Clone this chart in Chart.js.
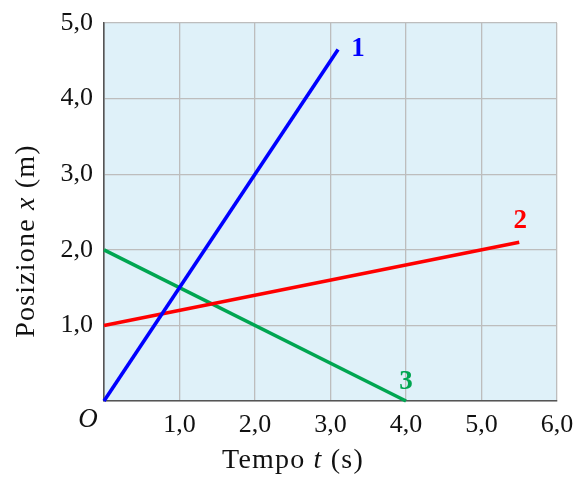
<!DOCTYPE html>
<html>
<head>
<meta charset="utf-8">
<script src="https://cdn.jsdelivr.net/npm/chart.js@4"></script>
<style>
  html, body { margin: 0; padding: 0; background: #fff; }
  #wrap { width: 576px; height: 477px; }
</style>
</head>
<body>
<div id="wrap"><canvas id="motionChart" width="576" height="477"></canvas></div>
<script>
// line 1, 2, 3: time (s) and position (m) at start and end
const time1 = [0, 3.1];
const pos1 = [0, 4.65];
const time2 = [0, 5.5];
const pos2 = [1, 2.1];
const time3 = [0, 4];
const pos3 = [2, 0];
const lineNames = ['1', '2', '3'];
const lineColors = ['#0000ff', '#ff0000', '#00a651'];
const xTickValues = [1, 2, 3, 4, 5, 6];
const yTickValues = [1, 2, 3, 4, 5];

const serif = '"Liberation Serif", "DejaVu Serif", serif';

function toPoints(xs, ys) {
  return xs.map((x, i) => ({ x: x, y: ys[i] }));
}

function commaLabel(v) {
  return v.toFixed(1).replace('.', ',');
}

const lineData = {
  datasets: [
    { label: lineNames[0], data: toPoints(time1, pos1), borderColor: lineColors[0] },
    { label: lineNames[1], data: toPoints(time2, pos2), borderColor: lineColors[1] },
    { label: lineNames[2], data: toPoints(time3, pos3), borderColor: lineColors[2] }
  ].map(d => Object.assign(d, {
    showLine: true, borderWidth: 3.6, pointRadius: 0, fill: false, clip: false
  }))
};

// label offsets from the end of each line (px)
const nameOffsets = [[20, 0], [1, -21], [0, -19]];

const decorations = {
  id: 'decorations',
  beforeDraw(chart) {
    const { ctx, chartArea: a } = chart;
    ctx.save();
    ctx.fillStyle = '#dff1f9';
    ctx.fillRect(a.left, a.top, a.right - a.left, a.bottom - a.top);
    ctx.restore();
  },
  afterDraw(chart) {
    const { ctx, scales } = chart;
    ctx.save();
    // line names
    ctx.textAlign = 'center';
    ctx.textBaseline = 'middle';
    ctx.font = 'bold 27px ' + serif;
    chart.data.datasets.forEach((ds, i) => {
      const end = ds.data[ds.data.length - 1];
      ctx.fillStyle = lineColors[i];
      ctx.fillText(lineNames[i],
        scales.x.getPixelForValue(end.x) + nameOffsets[i][0],
        scales.y.getPixelForValue(end.y) + nameOffsets[i][1]);
    });
    // origin
    ctx.fillStyle = '#111';
    ctx.font = 'italic 27px ' + serif;
    ctx.fillText('O', scales.x.getPixelForValue(0) - 16, scales.y.getPixelForValue(0) + 19);
    // axis titles with italic variable
    drawMixed(ctx, [['Tempo ', ''], ['t', 'italic '], [' (s)', '']], 293, 461, 0);
    drawMixed(ctx, [['Posizione ', ''], ['x', 'italic '], [' (m)', '']], 27, 241, -Math.PI / 2);
    ctx.restore();
  }
};

function drawMixed(ctx, parts, cx, cy, rot) {
  ctx.save();
  ctx.translate(cx, cy);
  ctx.rotate(rot);
  ctx.textAlign = 'left';
  ctx.textBaseline = 'middle';
  ctx.fillStyle = '#111';
  ctx.letterSpacing = '1.2px';
  let total = 0;
  parts.forEach(p => { ctx.font = p[1] + '28px ' + serif; total += ctx.measureText(p[0]).width; });
  let x = -total / 2;
  parts.forEach(p => {
    ctx.font = p[1] + '28px ' + serif;
    ctx.fillText(p[0], x, 0);
    x += ctx.measureText(p[0]).width;
  });
  ctx.restore();
}

const config = {
  type: 'scatter',
  data: lineData,
  options: {
    responsive: false,
    animation: false,
    layout: { padding: { top: 23, right: 19, left: 0, bottom: 0 } },
    plugins: { legend: { display: false }, tooltip: { enabled: false } },
    scales: {
      x: {
        type: 'linear', min: 0, max: 6,
        afterBuildTicks: s => { s.ticks = [0].concat(xTickValues).map(v => ({ value: v })); },
        afterFit: s => { s.height = 76; s.paddingRight = 0; s.paddingLeft = 0; },
        grid: { color: '#bdbdbd', lineWidth: 1.3, drawTicks: false },
        border: { color: '#555', width: 1.6 },
        ticks: {
          color: '#111', padding: 9, maxRotation: 0,
          font: { family: serif, size: 26 },
          callback: v => (v === 0 ? '' : commaLabel(v))
        }
      },
      y: {
        type: 'linear', min: 0, max: 5,
        afterBuildTicks: s => { s.ticks = [0].concat(yTickValues).map(v => ({ value: v })); },
        afterFit: s => { s.width = 104; s.paddingTop = 0; s.paddingBottom = 0; },
        grid: { color: '#bdbdbd', lineWidth: 1.3, drawTicks: false },
        border: { color: '#555', width: 1.6 },
        ticks: {
          color: '#111', padding: 11,
          font: { family: serif, size: 26 },
          callback: v => (v === 0 ? '' : commaLabel(v))
        }
      }
    }
  },
  plugins: [decorations]
};

const motionChart = new Chart(document.getElementById('motionChart'), config);
</script>
</body>
</html>
